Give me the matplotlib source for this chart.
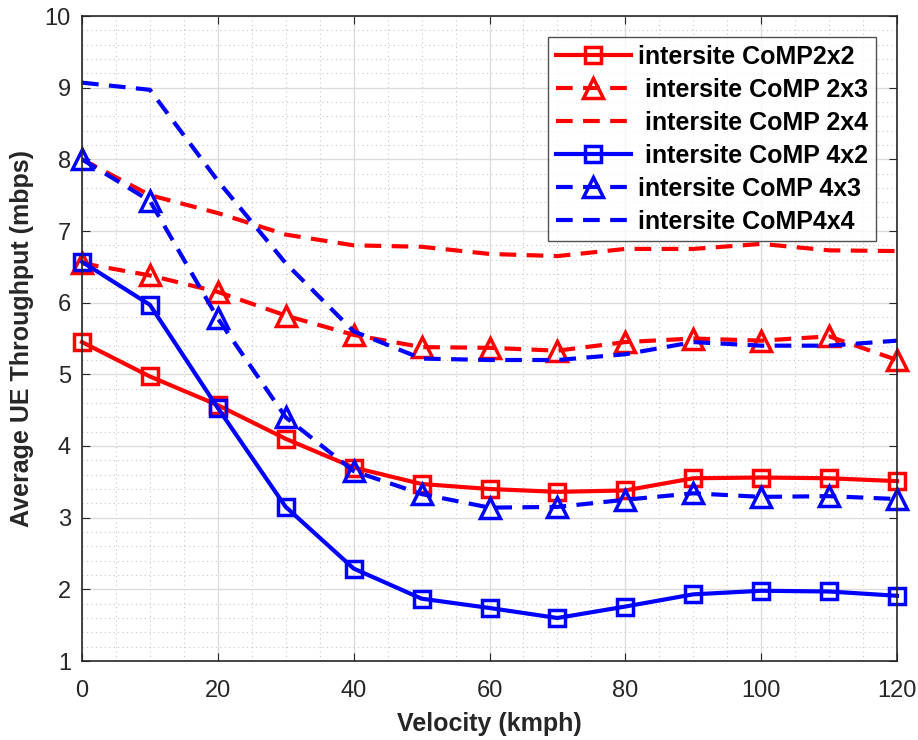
import matplotlib
matplotlib.use("Agg")
import matplotlib.pyplot as plt
from matplotlib.ticker import MultipleLocator

plt.rcParams['font.family'] = ['Liberation Sans', 'DejaVu Sans']

velocity = [0, 10, 20, 30, 40, 50, 60, 70, 80, 90, 100, 110, 120]
comp_2x2 = [5.45, 4.97, 4.57, 4.10, 3.70, 3.47, 3.40, 3.36, 3.38, 3.55, 3.56, 3.55, 3.51]
comp_2x3 = [6.55, 6.38, 6.15, 5.82, 5.55, 5.38, 5.37, 5.33, 5.45, 5.50, 5.47, 5.53, 5.20]
comp_2x4 = [8.00, 7.50, 7.25, 6.95, 6.80, 6.78, 6.68, 6.65, 6.75, 6.75, 6.82, 6.73, 6.72]
comp_4x2 = [6.57, 5.97, 4.53, 3.15, 2.29, 1.87, 1.74, 1.60, 1.76, 1.93, 1.98, 1.97, 1.91]
comp_4x3 = [8.00, 7.42, 5.78, 4.40, 3.65, 3.33, 3.14, 3.15, 3.25, 3.34, 3.29, 3.30, 3.26]
comp_4x4 = [9.07, 8.97, 7.70, 6.55, 5.60, 5.22, 5.20, 5.20, 5.28, 5.45, 5.40, 5.40, 5.47]

labels = ["intersite CoMP2x2", " intersite CoMP 2x3", " intersite CoMP 2x4",
          " intersite CoMP 4x2", "intersite CoMP 4x3", "intersite CoMP4x4"]

fig = plt.figure(figsize=(9.18, 7.4), dpi=100)
ax = fig.add_axes([82/918, 1-661/740, (897-82)/918, (661-16)/740])

lw = 3.0
dash = (4, 2.5)
common = dict(lw=lw, mfc='none', mew=2.5, clip_on=False)
ax.plot(velocity, comp_2x2, color='#ff0000', ls='-', marker='s', ms=12, label=labels[0], **common)
ax.plot(velocity, comp_2x3, color='#ff0000', ls=(0, dash), marker='^', ms=15, label=labels[1], **common)
ax.plot(velocity, comp_2x4, color='#ff0000', ls=(0, dash), label=labels[2], **common)
ax.plot(velocity, comp_4x2, color='#0000ff', ls='-', marker='s', ms=12, label=labels[3], **common)
ax.plot(velocity, comp_4x3, color='#0000ff', ls=(0, dash), marker='^', ms=15, label=labels[4], **common)
ax.plot(velocity, comp_4x4, color='#0000ff', ls=(0, dash), label=labels[5], **common)

ax.set_xlim(0, 120)
ax.set_ylim(1, 10)
ax.xaxis.set_major_locator(MultipleLocator(20))
ax.xaxis.set_minor_locator(MultipleLocator(5))
ax.yaxis.set_major_locator(MultipleLocator(1))
ax.yaxis.set_minor_locator(MultipleLocator(0.2))
ax.grid(which='major', color='#dcdcdc', lw=1.0)
ax.grid(which='minor', color='#c8c8c8', lw=0.8, ls=(0, (1, 3)))
ax.set_axisbelow(True)
ax.tick_params(which='both', direction='in', top=True, right=True, labelsize=17,
               colors='#262626', length=6)
ax.tick_params(axis='x', pad=14)
ax.tick_params(axis='y', pad=8)
ax.tick_params(which='minor', length=0)
for s in ax.spines.values():
    s.set_color('#262626')
    s.set_linewidth(1.2)

ax.set_xlabel('Velocity (kmph)', fontsize=18, fontweight='bold', color='#262626', labelpad=7)
ax.set_ylabel('Average UE Throughput (mbps)', fontsize=18, fontweight='bold', color='#262626', labelpad=8)

leg = ax.legend(loc='upper right', bbox_to_anchor=(0.974, 0.967),
                prop={'weight': 'bold', 'size': 18}, frameon=True, fancybox=False,
                edgecolor='#262626', handlelength=3.0, labelspacing=0.36,
                borderpad=0.3, handletextpad=0.3, borderaxespad=0)
leg.get_frame().set_linewidth(1.0)

fig.savefig('out.png', dpi=100)
